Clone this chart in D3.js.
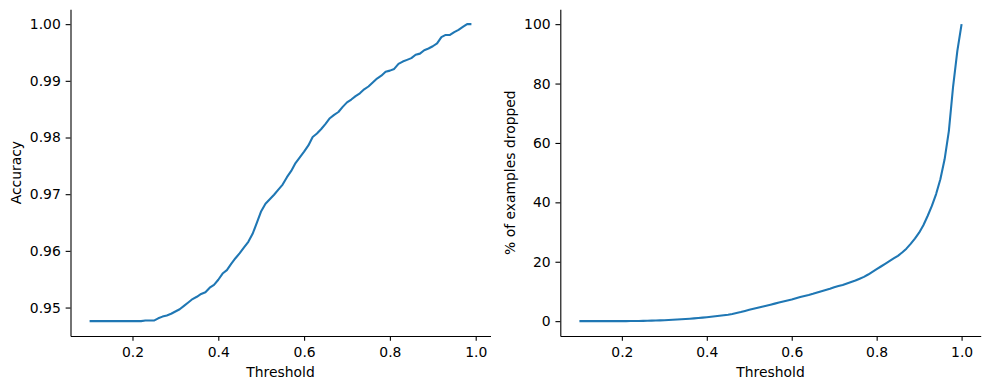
<!DOCTYPE html>
<html>
<head>
<meta charset="utf-8">
<script src="https://cdn.jsdelivr.net/npm/d3@7"></script>
<style>
  html, body { margin: 0; padding: 0; background: #fff; }
  svg { display: block; font-family: "DejaVu Sans", sans-serif; }
</style>
</head>
<body>
<svg id="chart" width="990" height="389"></svg>
<script>
// ---------- data ----------
const accThresholds = d3.range(10, 100).map(d => d / 100); // 0.10 .. 0.99
const accuracy = [
  0.9476, 0.9476, 0.9476, 0.9476, 0.9476, 0.9476, 0.9476, 0.9476, 0.9476, 0.9476,
  0.9476, 0.9476, 0.9476, 0.9477, 0.9477, 0.9477, 0.9481, 0.9484, 0.9486, 0.9489,
  0.9493, 0.9497, 0.9503, 0.9509, 0.9515, 0.9519, 0.9524, 0.9527, 0.9535, 0.9540,
  0.9549, 0.9560, 0.9566, 0.9577, 0.9587, 0.9596, 0.9606, 0.9616, 0.9630, 0.9650,
  0.9670, 0.9683, 0.9691, 0.9699, 0.9708, 0.9717, 0.9730, 0.9741, 0.9755, 0.9765,
  0.9775, 0.9786, 0.9801, 0.9807, 0.9815, 0.9824, 0.9834, 0.9840, 0.9845, 0.9854,
  0.9862, 0.9867, 0.9873, 0.9878, 0.9885, 0.9890, 0.9897, 0.9904, 0.9909, 0.9916,
  0.9918, 0.9921, 0.9930, 0.9934, 0.9937, 0.9940, 0.9946, 0.9948, 0.9954, 0.9957,
  0.9961, 0.9966, 0.9977, 0.9981, 0.9981, 0.9986, 0.9990, 0.9995, 1.0000, 1.0000
];

const dropThresholds = d3.range(10, 101).map(d => d / 100); // 0.10 .. 1.00
const dropped = [
  0, 0, 0, 0, 0, 0, 0, 0, 0, 0,
  0.01, 0.02, 0.03, 0.05, 0.07, 0.10, 0.13, 0.17, 0.22, 0.27,
  0.33, 0.40, 0.47, 0.55, 0.63, 0.72, 0.82, 0.93, 1.05, 1.18,
  1.32, 1.47, 1.63, 1.80, 1.98, 2.18, 2.42, 2.72, 3.05, 3.42,
  3.80, 4.15, 4.50, 4.85, 5.20, 5.55, 5.90, 6.25, 6.60, 6.95,
  7.30, 7.70, 8.10, 8.45, 8.80, 9.20, 9.65, 10.1, 10.5, 10.9,
  11.4, 11.8, 12.2, 12.7, 13.2, 13.7, 14.3, 14.9, 15.7, 16.6,
  17.5, 18.4, 19.3, 20.2, 21.1, 22.0, 23.1, 24.4, 26.0, 27.8,
  29.8, 32.3, 35.4, 38.8, 42.8, 47.8, 54.5, 64.0, 79.0, 91.0,
  100
];

const xTicks = [0.2, 0.4, 0.6, 0.8, 1.0];
const accTicks = [0.95, 0.96, 0.97, 0.98, 0.99, 1.00];
const dropTicks = [0, 20, 40, 60, 80, 100];

// ---------- drawing ----------
const svg = d3.select("#chart");
const FONT = 13.9;
const TICK = 4.86;
const PAD = 4.86;
const COLOR = "#1f77b4";

function panel(opts) {
  const { left, right, top, bottom, xs, ys, xTicksV, yTicksV, yFmt, ylabel, ylabelX } = opts;
  const xExt = d3.extent(xs), xr = xExt[1] - xExt[0];
  const yExt = d3.extent(ys), yr = yExt[1] - yExt[0];
  const x = d3.scaleLinear().domain([xExt[0] - 0.05 * xr, xExt[1] + 0.05 * xr]).range([left, right]);
  const y = d3.scaleLinear().domain([yExt[0] - 0.05 * yr, yExt[1] + 0.05 * yr]).range([bottom, top]);

  const g = svg.append("g");

  const line = d3.line().x((d, i) => x(xs[i])).y(d => y(d));
  g.append("path")
    .datum(ys)
    .attr("fill", "none")
    .attr("stroke", COLOR)
    .attr("stroke-width", 2.08)
    .attr("stroke-linejoin", "round")
    .attr("stroke-linecap", "butt")
    .attr("d", line);

  const xAxis = g.append("g")
    .attr("transform", `translate(0,${bottom})`)
    .call(d3.axisBottom(x).tickValues(xTicksV).tickFormat(d3.format(".1f"))
      .tickSize(TICK).tickSizeOuter(0).tickPadding(PAD));
  const yAxis = g.append("g")
    .attr("transform", `translate(${left},0)`)
    .call(d3.axisLeft(y).tickValues(yTicksV).tickFormat(yFmt)
      .tickSize(TICK).tickSizeOuter(0).tickPadding(PAD));

  [xAxis, yAxis].forEach(a => {
    a.select(".domain").attr("stroke", "#000").attr("stroke-width", 1.1);
    a.selectAll(".tick line").attr("stroke", "#000").attr("stroke-width", 1.1);
    a.selectAll(".tick text").attr("fill", "#000").style("font-size", FONT + "px")
      .style("font-family", "DejaVu Sans");
    a.attr("font-family", null).attr("font-size", null);
  });
  xAxis.selectAll(".tick text").attr("dy", null).attr("y", TICK + PAD + 11.6);

  g.append("text")
    .attr("x", (left + right) / 2)
    .attr("y", 377)
    .attr("text-anchor", "middle")
    .style("font-size", FONT + "px")
    .text("Threshold");

  g.append("text")
    .attr("transform", `translate(${ylabelX},${(top + bottom) / 2}) rotate(-90)`)
    .attr("text-anchor", "middle")
    .attr("dy", "0.35em")
    .style("font-size", FONT + "px")
    .text(ylabel);
}

panel({
  left: 70.5, right: 490.5, top: 9.3, bottom: 336,
  xs: accThresholds, ys: accuracy,
  xTicksV: xTicks, yTicksV: accTicks, yFmt: d3.format(".2f"),
  ylabel: "Accuracy", ylabelX: 16
});

panel({
  left: 560.3, right: 980.7, top: 9.3, bottom: 336,
  xs: dropThresholds, ys: dropped,
  xTicksV: xTicks, yTicksV: dropTicks, yFmt: d3.format("d"),
  ylabel: "% of examples dropped", ylabelX: 510.5
});
</script>
</body>
</html>
